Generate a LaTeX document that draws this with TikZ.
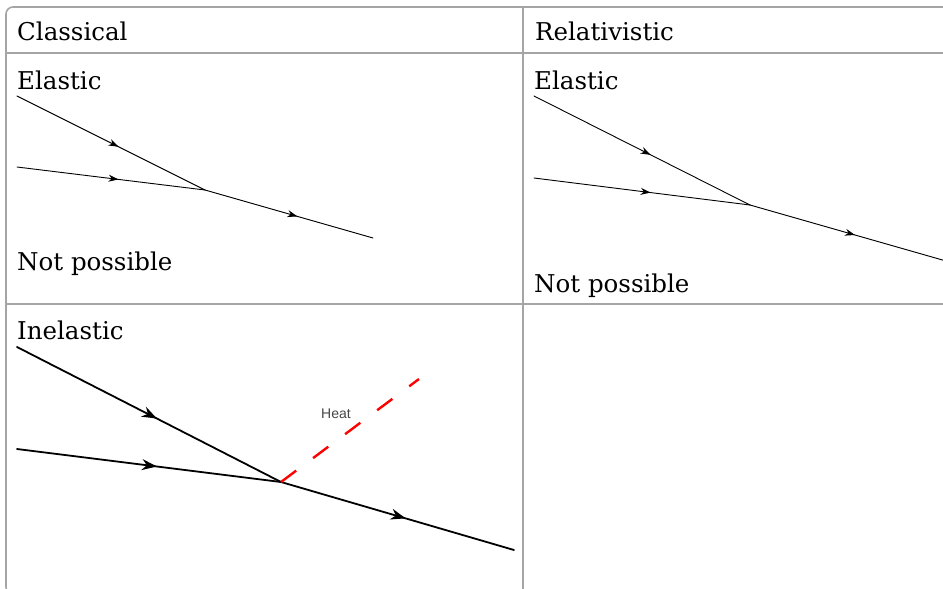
\documentclass[tikz,border=0pt]{standalone}
\usepackage{fontspec}
\usepackage{tikz}
\usetikzlibrary{arrows.meta,decorations.markings,calc,positioning}
\newfontfamily\cellfont{DejaVu Serif}
\newfontfamily\heatfont{Liberation Sans}
\definecolor{rulegray}{RGB}{165,165,165}
\definecolor{heatgray}{RGB}{70,70,70}

\begin{document}
\begin{tikzpicture}[
          x=1pt, y=-1pt,
          rule/.style={draw=rulegray, line width=1.6pt},
          lab/.style={font=\cellfont\fontsize{24.5}{28}\selectfont, anchor=base west, inner sep=0pt},
          ray/.style={draw, line width=0.9pt, line cap=round},
          fatray/.style={draw, line width=1.8pt, line cap=round},
          midarrow/.style={postaction={decorate}, decoration={markings,
              mark=at position #1 with {\arrow{Stealth[length=10pt,width=7pt]}}}},
          fatarrow/.style={postaction={decorate}, decoration={markings,
              mark=at position #1 with {\arrow{Stealth[length=15pt,width=11pt]}}}},
          heatline/.style={draw=red, line width=2.4pt, dash pattern=on 19pt off 21pt},
        ]
        \useasboundingbox (0,0) rectangle (943,589);

        % --- table rules ---
        \draw[rule, rounded corners=7pt] (960,7) -- (6,7) -- (6,594) -- (30,594);
        \draw[rule] (6,53) -- (960,53);
        \draw[rule] (6,304) -- (960,304);
        \draw[rule] (523,7) -- (523,600);

        % --- headers ---
        \node[lab] (cls) at (17,40) {Classical};
        \node[lab] (rel) at (535,40) {Relativistic};

        % -----------------------
        % Classical, elastic
        % -----------------------
        \node[lab] (elA) at (17,89) {Elastic};
        \coordinate (A1) at (17,96);
        \coordinate (A2) at (17,167);
        \coordinate (AJ) at (205,190);
        \coordinate (A3) at (373,238);
        \draw[ray, midarrow=0.54] (A1) -- (AJ);
        \draw[ray, midarrow=0.54] (A2) -- (AJ);
        \draw[ray, midarrow=0.55] (AJ) -- (A3);
        \node[lab] (npA) at (17,270) {Not possible};

        % -----------------------
        % Relativistic, elastic
        % -----------------------
        \node[lab] (elB) at (534,89) {Elastic};
        \coordinate (B1) at (534,96);
        \coordinate (B2) at (534,178);
        \coordinate (BJ) at (750,205);
        \coordinate (B3) at (960,265);
        \draw[ray, midarrow=0.54] (B1) -- (BJ);
        \draw[ray, midarrow=0.54] (B2) -- (BJ);
        \draw[ray, midarrow=0.50] (BJ) -- (B3);
        \node[lab] (npB) at (534,292) {Not possible};

        % -----------------------
        % Classical, inelastic
        % -----------------------
        \node[lab] (inel) at (17,339) {Inelastic};
        \coordinate (C1) at (17,347);
        \coordinate (C2) at (17,449);
        \coordinate (CJ) at (281,482);
        \coordinate (C3) at (514,550);
        \coordinate (CH) at (419,379);
        \draw[fatray, fatarrow=0.53] (C1) -- (CJ);
        \draw[fatray, fatarrow=0.53] (C2) -- (CJ);
        \draw[fatray, fatarrow=0.535] (CJ) -- (C3);
        \draw[heatline] (CJ) -- (CH);
        \node[font=\heatfont\fontsize{14}{16}\selectfont, text=heatgray, inner sep=0pt] (heat) at (336,414) {Heat};

        \end{tikzpicture}
\end{document}
